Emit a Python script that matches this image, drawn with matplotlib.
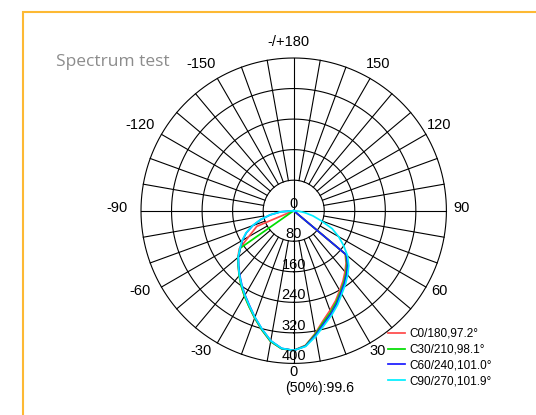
import numpy as np
import matplotlib.pyplot as plt
import matplotlib.patches as mpatches

# ──────────────────────────────────────────────
# DATA  (angle in degrees: 0 = straight down, + = right side)
# ──────────────────────────────────────────────
ANG_FULL = list(range(-90, 95, 5))
ANG_RED = [-90, -67, -55] + list(range(-50, 55, 5)) + [90]
ANG_GREEN = [-90, -55] + list(range(-50, 55, 5)) + [90]
ANG_BLUE = list(range(-90, 55, 5)) + [90]

C0_180 = [0, 105, 174,
          191, 206, 222, 240, 258, 277, 299, 323, 348, 363, 366,
          354, 326, 298, 278, 260, 241, 225, 209, 194, 176,
          0]
C30_210 = [0, 170,
           190, 205, 222, 240, 258, 277, 299, 323, 348, 363, 366,
           355, 328, 302, 283, 264, 245, 229, 213, 197, 178,
           0]
C60_240 = [0, 34, 62, 89, 114, 137, 155, 171,
           189, 204, 220, 237, 255, 274, 297, 321, 346, 362, 366,
           356, 331, 306, 287, 268, 248, 232, 216, 200, 180,
           0]
C90_270 = [0, 35, 63, 90, 115, 138, 156, 172, 190, 205, 221, 238, 256, 275,
           297, 321, 346, 362, 366,
           357, 334, 310, 291, 272, 252, 236, 220, 204, 184, 160, 136, 111,
           76, 52, 30, 12, 0]

SERIES = [
    ("C0/180,97.2°", ANG_RED, C0_180, "#ff4848"),
    ("C30/210,98.1°", ANG_GREEN, C30_210, "#00dd00"),
    ("C60/240,101.0°", ANG_BLUE, C60_240, "#1a1aff"),
    ("C90/270,101.9°", ANG_FULL, C90_270, "#00eeff"),
]

RINGS = [80, 160, 240, 320, 400]
RING_LABELS = ["0", "80", "160", "240", "320", "400"]
ANGLE_TICKS = [180, 150, 120, 90, 60, 30, 0, -30, -60, -90, -120, -150]
ANGLE_LABELS = ["-/+180", "150", "120", "90", "60", "30", "0",
                "-30", "-60", "-90", "-120", "-150"]
BEAM_TEXT = "(50%):99.6"

FONT = "Liberation Sans"
W, H = 536, 415
CX, CY, RAD = 293.7, 210.7, 152.7   # polar centre / radius in pixels


def px(x, y):
    """pixel (from top-left) -> figure fraction"""
    return x / W, 1 - y / H


fig = plt.figure(figsize=(W / 100, H / 100), dpi=100)
fig.patch.set_facecolor("white")

# orange frame
x0, y0 = px(22.5, 11.7)
fig.add_artist(mpatches.Rectangle((x0, -0.1), 1.2, y0 + 0.1, transform=fig.transFigure,
                                  fill=False, ec="#fdb933", lw=1.5))

fig.text(*px(56, 66), "Spectrum test", fontsize=12.5, color="#8c8c8c",
         family="Open Sans", va="baseline", ha="left")

ax = fig.add_axes([(CX - RAD) / W, 1 - (CY + RAD) / H, 2 * RAD / W, 2 * RAD / H],
                  projection="polar")
ax.set_theta_zero_location("S")
ax.set_ylim(0, 400)
ax.set_xticks([])
ax.set_yticks([])
ax.grid(False)
ax.spines["polar"].set_visible(False)
ax.patch.set_alpha(0)

# ── grid ──
t = np.linspace(0, 2 * np.pi, 361)
for r in RINGS:
    ax.plot(t, np.full_like(t, r), color="black", lw=0.8, clip_on=False, zorder=1)
for a in range(0, 360, 10):
    r_start = 0 if a % 90 == 0 else RINGS[0]
    ax.plot([np.radians(a)] * 2, [r_start, 400], color="black", lw=0.8,
            clip_on=False, zorder=1)

# ── curves ──
for label, ang, vals, col in SERIES:
    ax.plot(np.radians(ang), vals, color=col, lw=1.25, label=label, zorder=3)

# ring values along the 0° axis
for r, lbl in zip([0] + RINGS, RING_LABELS):
    ax.text(0, r, lbl, ha="center", va="bottom", fontsize=10.5, family=FONT, zorder=4)

# angle labels
for a, lbl in zip(ANGLE_TICKS, ANGLE_LABELS):
    th = np.radians(a)
    dx = 168 * np.sin(th)
    dy = 166 * np.cos(th) - 3
    if a < 0:
        dx -= 8.5
    if a == 180:
        dx -= 5.7
    if a == 0:
        dy -= 1.5
    ax.annotate(lbl, xy=(0, 0), xytext=(dx * 0.72, -dy * 0.72), textcoords="offset points",
                ha="center", va="center", fontsize=10.5, family=FONT, annotation_clip=False)

fig.text(*px(285, 387.5), BEAM_TEXT, ha="left", va="center", fontsize=10.2, family=FONT)

leg = fig.legend(loc="upper left", bbox_to_anchor=px(388, 328), frameon=False,
                 prop={"family": FONT, "size": 8.5}, handlelength=1.4,
                 handletextpad=0.45, labelspacing=0.32, borderpad=0, borderaxespad=0)

fig.savefig("out.png", dpi=100)
